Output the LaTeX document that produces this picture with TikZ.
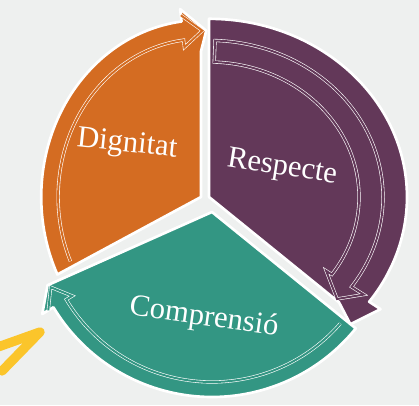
\documentclass[tikz,border=0pt]{standalone}
\usepackage{fontspec}
\setmainfont{Liberation Serif}
\usepackage{xcolor}
\usepackage{tikz}
\usetikzlibrary{positioning,calc}
\definecolor{bggrey}{HTML}{EEF0EF}
\definecolor{dignorange}{HTML}{D46C22}
\definecolor{resppurple}{HTML}{633859}
\definecolor{compteal}{HTML}{339683}
\definecolor{markyellow}{HTML}{FBC52B}

\begin{document}
\begin{tikzpicture}[x = .75pt, y = .75pt,
  piece/.style = {draw = white, line width = 2pt, line join = round},
  ring/.style = {draw = white, line width = .45pt, double distance = 1.5pt},
  cyclelabel/.style = {text = white, font = \fontsize{23}{26}\selectfont}]
\fill[bggrey] (0,0) rectangle (419,405);
\useasboundingbox (0,0) rectangle (419,405);

% teal piece
\begin{scope}[shift = {(212,193)}]
\filldraw[piece, fill = compteal] (0,0) -- (-39:185) arc[start angle = -39, end angle = -149, radius = 185]
  -- (-149:198) -- (-156:180) -- (-156:150) -- cycle;
\draw[ring, double = compteal] (-41:170) arc[start angle = -41, end angle = -149, radius = 170]
  -- (-149:163) -- (-155:178) -- (-149:191);
\end{scope}

% purple piece
\begin{scope}[shift = {(209,208)}, yscale = .9]
\filldraw[piece, fill = resppurple] (0,0) -- (90:198) arc[start angle = 90, end angle = -36, radius = 198]
  -- (-36:212) -- (-45:200) -- (-42:175) -- cycle;
\draw[ring, double = resppurple] (88:150) arc[start angle = 88, end angle = -35, radius = 150]
  -- (-35:143) -- (-41.5:171) -- (-35:189) -- (-35:174) arc[start angle = -35, end angle = 88, radius = 174] -- cycle;
\end{scope}

% orange piece
\begin{scope}[shift = {(201,208)}, xscale = .94, yscale = 1.04]
\filldraw[piece, fill = dignorange] (0,0) -- (206:170) arc[start angle = 206, end angle = 97, radius = 170]
  -- (97:182) -- (88:160) -- (90:140) -- cycle;
\draw[ring, double = dignorange] (204:152) arc[start angle = 204, end angle = 97, radius = 152]
  -- (97:145) -- (89.5:160) -- (97:176);
\end{scope}

\node[cyclelabel, rotate = -6] (dign) at (127,260) {Dignitat};
\node[cyclelabel, rotate = -9] (resp) at (282,237) {Respecte};
\node[cyclelabel, rotate = -8] (comp) at (204,87) {Comprensió};

\coordinate (mk1) at (-2,58);
\coordinate (mk2) at (40,73);
\coordinate (mk3) at (2,34);
\draw[markyellow, line width = 7pt, line cap = round, line join = round] (mk1) -- (mk2) -- (mk3);
\end{tikzpicture}
\end{document}
